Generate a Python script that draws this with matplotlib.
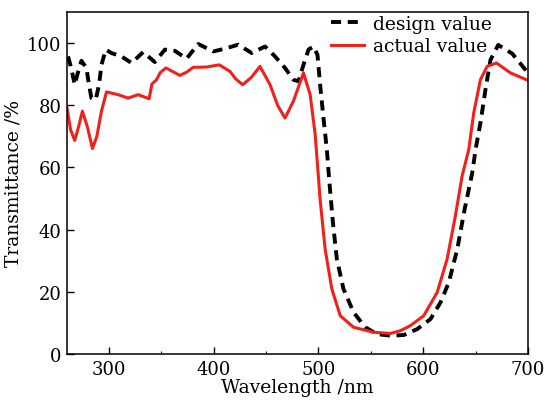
import matplotlib.pyplot as plt
import numpy as np

# design (dashed black) transmittance curve
design_nm = [261, 264, 267.4, 270, 273.8, 278.5, 281, 283.3, 287.4, 290.6, 292.9, 297,
             302.4, 312, 321.6, 332.7, 343.8, 353.4, 363, 374.1, 385.3, 399.6, 410.8,
             423.5, 436.3, 449, 458.6, 468.1, 476.1, 480.9, 485.7, 490.5, 495.3, 499.1,
             501.6, 504.8, 508, 510.5, 513.8, 517.6, 523.9, 533.5, 544.7, 555.9, 568.6,
             581.4, 594.2, 606.9, 616.5, 624.4, 632.5, 639.5, 646.8, 650, 654.6, 659.4,
             664.2, 671.6, 685, 700]
design_T = [95.7, 92, 86.6, 90, 94.3, 92, 86.6, 82.3, 81.8, 86.6, 93, 97.9,
            96.8, 95.7, 93.6, 97.1, 93.9, 97.9, 97.5, 95, 99.7, 97.3, 98.2,
            99.5, 96.8, 98.9, 95.7, 92, 88.2, 87.7, 93, 97.9, 98.9, 96.2,
            86.6, 75.9, 65.8, 55.1, 42.3, 30.5, 20.9, 13.4, 8.6, 6.4, 5.9,
            6.1, 8.0, 11.2, 16.6, 23.0, 33.7, 46.5, 58.3, 65.8, 74.3, 85.0,
            94.6, 99.4, 96.6, 90.4]

# measured (solid red) transmittance curve
actual_nm = [260, 263.5, 267.4, 271, 274.7, 279.5, 284.3, 288.5, 292.9, 297.7, 308.8,
             318.3, 327.9, 338.4, 341, 345.4, 349, 354.4, 360, 367.7, 374, 380.5,
             393.3, 405.3, 415.5, 421, 427.7, 436, 444.2, 453.8, 461, 468.1, 476.1,
             485.7, 492.1, 496.9, 501.6, 506.4, 512.8, 520.8, 533.5, 552.7, 568.6,
             578.2, 587.7, 600.5, 613.3, 622.8, 630.7, 637.1, 643.5, 648.2, 654.6,
             661, 669.9, 683.3, 700]
actual_T = [79.1, 72, 68.7, 73, 78.1, 73, 66.1, 70, 78.1, 84.3, 83.4,
            82.3, 83.4, 82.1, 86.8, 88.2, 90.5, 92, 91, 89.6, 90.6, 92.2,
            92.3, 93.0, 90.9, 88.5, 86.6, 89, 92.5, 86.6, 80, 75.9, 81.3,
            90.4, 83.4, 70.6, 49.7, 33.7, 20.9, 12.3, 8.6, 7.0, 6.6,
            7.5, 9.1, 12.3, 19.8, 30.5, 44.4, 57.2, 65.8, 77.5, 88.2,
            92.5, 93.6, 90.4, 88.0]

plt.rcParams["font.family"] = ["DejaVu Serif"]

fig = plt.figure(figsize=(5.46, 4.02), dpi=100)
ax = fig.add_axes([0.1227, 0.1169, 0.8443, 0.8508])

ax.plot(design_nm, design_T, color="black", lw=2.8, linestyle=(0, (2.6, 1.7)),
        label="design value")
ax.plot(actual_nm, actual_T, color="#f0201a", lw=2.2, label="actual value")

ax.set_xlim(260, 700)
ax.set_ylim(0, 110)
ax.set_xticks([300, 400, 500, 600, 700])
ax.set_xticks(np.arange(300, 700, 50), minor=True)
ax.set_yticks([0, 20, 40, 60, 80, 100])
ax.tick_params(direction="in", length=5, width=1, labelsize=13, pad=4)
ax.tick_params(which="minor", direction="in", length=2, width=0.8, left=False)
for s in ax.spines.values():
    s.set_linewidth(1.1)

ax.set_xlabel("Wavelength /nm", fontsize=13.5, labelpad=0)
ax.set_ylabel("Transmittance /%", fontsize=13.5, labelpad=3)

ax.legend(loc="upper right", bbox_to_anchor=(0.945, 1.025), frameon=False,
          handlelength=1.75, handletextpad=0.45, labelspacing=0.25, fontsize=13.5,
          borderaxespad=0.2)

fig.savefig("out.png", dpi=100)
